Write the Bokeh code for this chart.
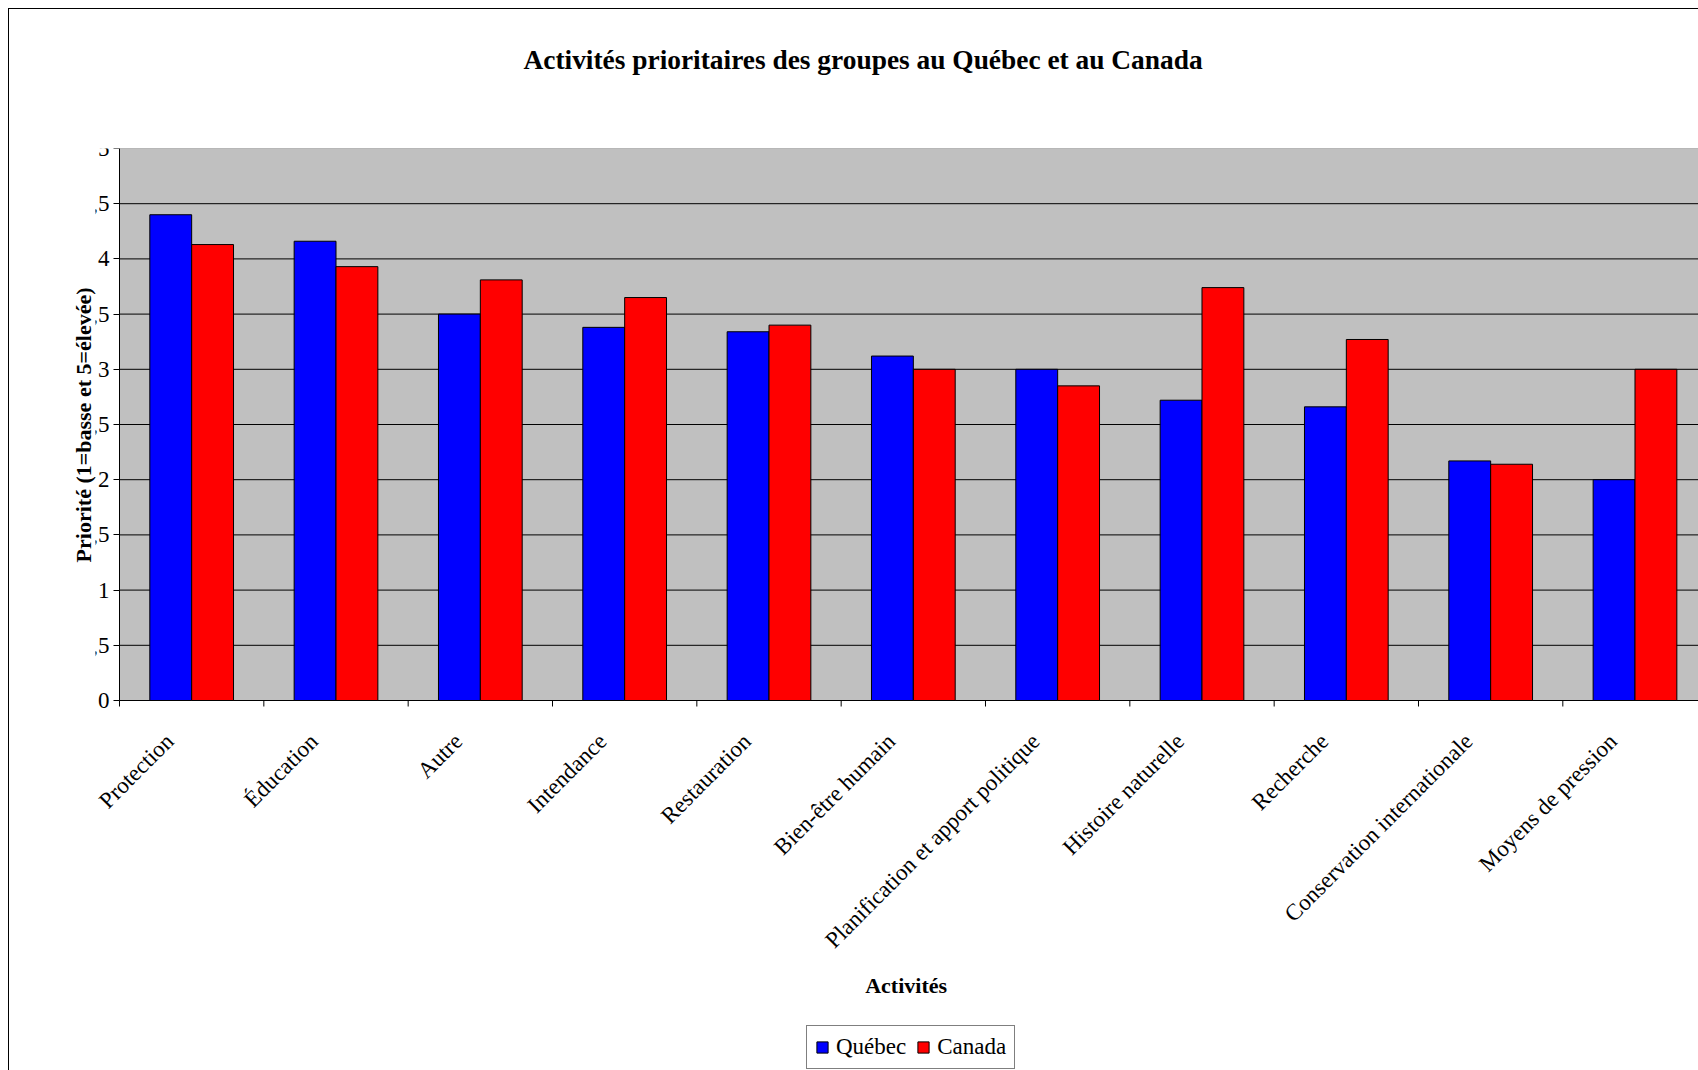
import math
from bokeh.plotting import figure
from bokeh.models import Range1d, FixedTicker, LinearAxis, Legend, LegendItem, Title
from bokeh.core.properties import value
from bokeh.embed import file_html
from bokeh.resources import INLINE

categories = ["Protection", "Éducation", "Autre", "Intendance", "Restauration",
              "Bien-être humain", "Planification et apport politique",
              "Histoire naturelle", "Recherche", "Conservation internationale",
              "Moyens de pression"]
quebec = [4.40, 4.16, 3.50, 3.38, 3.34, 3.12, 3.00, 2.72, 2.66, 2.17, 2.00]
canada = [4.13, 3.93, 3.81, 3.65, 3.40, 3.00, 2.85, 3.74, 3.27, 2.14, 3.00]
y_ticks = [0, 0.5, 1, 1.5, 2, 2.5, 3, 3.5, 4, 4.5, 5]
y_tick_labels = ["0", "0,5", "1", "1,5", "2", "2,5", "3", "3,5", "4", "4,5", "5"]
series_names = ["Québec", "Canada"]
series_colors = ["#0000FF", "#FF0000"]

title_text = "Activités prioritaires des groupes au Québec et au Canada"
x_title = "Activités"
y_title = "Priorité (1=basse et 5=élevée)"

FONT = "Liberation Serif"
BAR_W = 0.29
n = len(categories)
Y_MAX = 5
X_END = 10.94

# layout in pixels
PX_PER_CAT = 144.3
LEFT_PAD_PX = 24          # frame starts this far left of the y axis
PLOT_H = 552
FRAME_H = 922
PX_PER_Y = PLOT_H / Y_MAX
y_bottom = Y_MAX - FRAME_H / PX_PER_Y
x_start = -LEFT_PAD_PX / PX_PER_CAT


def px(d):
    """convert a pixel offset below the zero line into data units"""
    return -d / PX_PER_Y


p = figure(frame_width=1603, frame_height=FRAME_H, output_backend="svg",
           toolbar_location=None,
           x_range=Range1d(x_start, X_END), y_range=Range1d(y_bottom, Y_MAX),
           x_axis_location=None, y_axis_location=None,
           min_border_left=95, min_border_right=0, min_border_top=148,
           min_border_bottom=0, background_fill_color=None,
           border_fill_color=None)
p.styles = {
    "background": ("linear-gradient(black, black) 8px 8px / 1px 100% no-repeat, "
                   "linear-gradient(black, black) 8px 8px / 100% 1px no-repeat, white"),
}
p.outline_line_color = None
p.xgrid.visible = False
p.ygrid.visible = False

# title
p.title.text = title_text
p.title.align = "left"
p.title.offset = 428
p.title.text_font = FONT
p.title.text_font_size = "27.4px"
p.title.text_font_style = "bold"
p.title.text_color = "black"
p.title.standoff = 0
p.title.padding = dict(left=0, right=0, top=0, bottom=74)

# grey plot area and grid lines
grid_y = y_ticks[:-1]
p.quad(left=[0], right=[n], bottom=[0], top=[Y_MAX], fill_color="#C0C0C0",
       line_color="#808080", line_width=1)
p.segment(x0=[0] * len(grid_y), y0=grid_y, x1=[n] * len(grid_y), y1=grid_y,
          line_color="black", line_width=1)

# bars
xq = [i + 0.5 - BAR_W / 2 for i in range(n)]
xc = [i + 0.5 + BAR_W / 2 for i in range(n)]
rq = p.vbar(x=xq, top=quebec, width=BAR_W, bottom=0, fill_color=series_colors[0],
            line_color="black", line_width=1)
rc = p.vbar(x=xc, top=canada, width=BAR_W, bottom=0, fill_color=series_colors[1],
            line_color="black", line_width=1)

# x tick marks between categories
tick_pos = list(range(n + 1))
p.segment(x0=tick_pos, y0=[0] * len(tick_pos), x1=tick_pos,
          y1=[px(6)] * len(tick_pos), line_color="black", line_width=1)

# rotated category labels
label_pos = [i + 0.348 for i in range(n)]
p.text(x=label_pos, y=[px(37)] * n, text=categories, angle=math.pi / 4,
       text_align="right", text_baseline="middle",
       text_font=value(FONT), text_font_size=value("23px"), text_color="black")

# x axis title
p.text(x=[X_END / 2 - 0.02], y=[px(285)], text=[x_title], text_align="center",
       text_baseline="middle", text_font=value(FONT), text_font_size=value("22px"),
       text_font_style="bold", text_color="black")

# y axis, fixed at x = 0
yax = LinearAxis(ticker=FixedTicker(ticks=y_ticks),
                 major_label_overrides={t: l for t, l in zip(y_ticks, y_tick_labels)},
                 bounds=(0, Y_MAX), fixed_location=0)
yax.major_tick_out = 6
yax.major_tick_in = 0
yax.minor_tick_line_color = None
yax.axis_line_color = "black"
yax.major_tick_line_color = "black"
yax.major_label_text_font = FONT
yax.major_label_text_font_size = "23px"
yax.major_label_text_color = "black"
yax.major_label_standoff = 4
p.add_layout(yax, "left")

# y axis title
ytitle = Title(text=y_title, align="right", offset=139, standoff=0,
               text_font=FONT, text_font_size="22px", text_font_style="bold",
               text_color="black")
p.add_layout(ytitle, "left")

legend = Legend(items=[LegendItem(label=series_names[0], renderers=[rq]),
                       LegendItem(label=series_names[1], renderers=[rc])],
                orientation="horizontal", location=(711, 1))
legend.label_text_font = FONT
legend.label_text_font_size = "23px"
legend.label_text_color = "black"
legend.glyph_width = 14
legend.glyph_height = 14
legend.label_standoff = 7
legend.spacing = 10
legend.padding = 8
legend.margin = 0
legend.border_line_color = "black"
legend.border_line_width = 1
legend.background_fill_color = "white"
p.add_layout(legend)

open("out.html", "w").write(file_html(p, INLINE))
